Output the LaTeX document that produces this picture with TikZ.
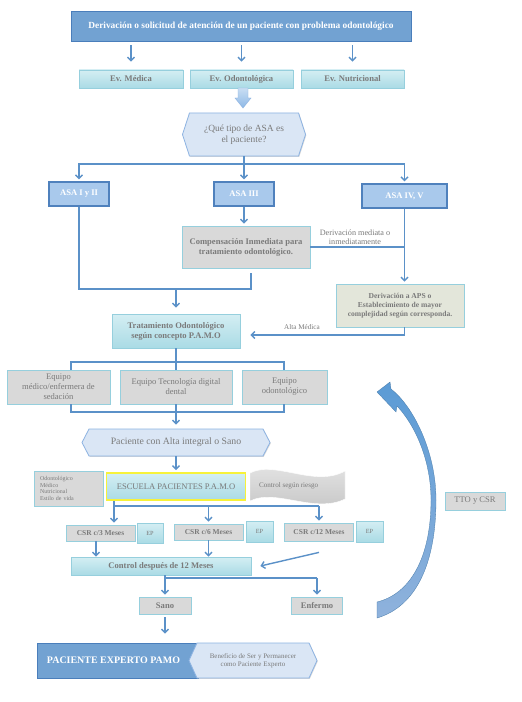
\documentclass[tikz,border=0pt]{standalone}
\usepackage{fontspec}
\setmainfont{Liberation Serif}
\usetikzlibrary{arrows.meta,shapes.symbols,shadows}
\definecolor{lineblue}{HTML}{5B91C8}
\definecolor{topfill}{HTML}{72A2D2}
\definecolor{topdraw}{HTML}{4A7EBB}
\definecolor{asafill}{HTML}{A9C9EC}
\definecolor{asadraw}{HTML}{4F81BD}
\definecolor{cyantop}{HTML}{D4EEF3}
\definecolor{cyanbot}{HTML}{AADBE5}
\definecolor{cyanline}{HTML}{96CFDD}
\definecolor{greyfill}{HTML}{D9D9D9}
\definecolor{hexfill}{HTML}{DAE6F5}
\definecolor{hexdraw}{HTML}{8DB3E2}
\definecolor{apsfill}{HTML}{E3E6DA}
\definecolor{txtgrey}{HTML}{7A7A7A}
\definecolor{yellowline}{HTML}{F7F23A}
\definecolor{arrowtop}{HTML}{5B9BD5}
\definecolor{arrowbot}{HTML}{8FB2DC}
\definecolor{blocktop}{HTML}{C9DEF3}
\definecolor{blockbot}{HTML}{8DB8E6}
\definecolor{wavetop}{HTML}{E6E6E6}
\definecolor{wavebot}{HTML}{C4C4C4}
\tikzset{
  box/.style={inner sep=1bp, align=center, text=txtgrey, line width=0.8bp},
  shad/.style={drop shadow={shadow xshift=0.8bp,shadow yshift=-0.8bp,opacity=0.3}},
  bfs/.style={font=\fontsize{8.6}{10}\selectfont\bfseries},
  rfs/.style={font=\fontsize{8.6}{10}\selectfont},
  topbox/.style={box, fill=topfill, draw=topdraw, text=white, font=\fontsize{9.4}{11}\selectfont\bfseries, shad},
  cyanbox/.style={box, draw=cyanline, top color=cyantop, bottom color=cyanbot, shad},
  greybox/.style={box, draw=cyanline, fill=greyfill, shad},
  asabox/.style={box, draw=asadraw, line width=1.3bp, fill=asafill, text=white, bfs, shad},
  hexbox/.style={box, signal, signal to=west and east, draw=hexdraw, fill=hexfill, shad},
  lbl/.style={align=center, text=txtgrey, font=\fontsize{7.2}{8.2}\selectfont, inner sep=0pt},
  conn/.style={draw=lineblue, line width=1.4bp},
  arr/.style={conn, -{Straight Barb[length=3.5bp,width=7bp]}}
}
\begin{document}
\begin{tikzpicture}[x=1bp,y=-1bp]
\useasboundingbox (0,0) rectangle (522,702);
\fill[white] (0,0) rectangle (522,702);

% top
\node[topbox, minimum width=340bp, minimum height=30bp] (top) at (241,26) {Derivación o solicitud de atención de un paciente con problema odontológico};
\node[cyanbox, bfs, minimum width=104bp, minimum height=18bp] (ev1) at (131,79) {Ev. Médica};
\node[cyanbox, bfs, minimum width=103bp, minimum height=18bp] (ev2) at (241.5,79) {Ev. Odontológica};
\node[cyanbox, bfs, minimum width=103bp, minimum height=18bp] (ev3) at (352.5,79) {Ev. Nutricional};
\foreach \e in {ev1,ev2,ev3}{
  \draw[arr, shorten <=4bp, shorten >=8bp] (top.south -| \e.north) -- (\e.north);
}
% block arrow
\shade[top color=blocktop, bottom color=blockbot, draw=hexdraw, line width=0.4bp]
  (238,88) -- (248,88) -- (248,98) -- (251,98) -- (243,108) -- (235,98) -- (238,98) -- cycle;

% hexagon question
\node[hexbox, font=\fontsize{9.5}{11}\selectfont, signal pointer angle=144, minimum width=123bp, minimum height=43bp] (q) at (244,134.5) {¿Qué tipo de ASA es\\el paciente?};

% ASA
\node[asabox, minimum width=60bp, minimum height=24bp] (asa1) at (79,194) {ASA I y II};
\node[asabox, minimum width=60bp, minimum height=24bp] (asa2) at (244,194) {ASA III};
\node[asabox, minimum width=85bp, minimum height=24bp] (asa3) at (404.5,196) {ASA IV, V};
\coordinate (br) at (244,164);
\draw[conn] (q.south) -- (br);
\draw[arr] (br) -| ([yshift=2bp]asa1.north);
\draw[arr] (br) -| ([yshift=2bp]asa3.north);
\draw[arr] (br) -- ([yshift=2bp]asa2.north);

% compensacion
\node[greybox, bfs, minimum width=128bp, minimum height=42bp] (comp) at (246,247) {Compensación Inmediata para\\tratamiento odontológico.};
\draw[arr] (asa2.south) -- ([yshift=2bp]asa2.south |- comp.north);
\draw[conn] (comp.east) -- (comp.east -| asa3.south);
\node[lbl, font=\fontsize{8.2}{9.5}\selectfont] (l1) at (355,237) {Derivación mediata o\\inmediatamente};

% APS
\node[box, draw=cyanline, fill=apsfill, shad, font=\fontsize{7.6}{9}\selectfont\bfseries, minimum width=128bp, minimum height=43bp] (aps) at (400,305.5) {Derivación a APS o\\Establecimiento de mayor\\complejidad según corresponda.};
\draw[arr] (asa3.south) -- ([yshift=2bp]asa3.south |- aps.north);

% tratamiento
\node[cyanbox, bfs, minimum width=128bp, minimum height=34bp] (trat) at (176,331) {Tratamiento Odontológico\\según concepto P.A.M.O};
\coordinate (j1) at (251,289);
\draw[conn] (asa1.south) |- (j1) -- ([yshift=-5bp]j1 |- comp.south);
\draw[arr] (trat.north |- j1) -- ([yshift=6bp]trat.north);
\draw[arr] (asa3.south |- aps.south) |- ([xshift=10bp,yshift=-4bp]trat.east);
\node[lbl] (l2) at (302,327) {Alta Médica};

% equipos
\node[greybox, rfs, minimum width=103bp, minimum height=34bp] (eq1) at (58.5,387) {Equipo\\médico/enfermera de\\sedación};
\node[greybox, rfs, minimum width=112bp, minimum height=34bp] (eq2) at (176,387) {Equipo Tecnología digital\\dental};
\node[greybox, rfs, minimum width=85bp, minimum height=34bp] (eq3) at (284.5,387) {Equipo\\odontológico};
\coordinate (h1) at (71,362);
\coordinate (h2) at (284,362);
\draw[conn] (trat.south) -- (trat.south |- eq2.north);
\draw[conn] (h1 |- eq1.north) -- (h1) -- (h2) -- (h2 |- eq3.north);
\coordinate (g1) at (71,412);
\coordinate (g2) at (284,412);
\draw[conn] (g1 |- eq1.south) -- (g1) -- (g2) -- (g2 |- eq3.south);
\draw[conn] (eq2.south) -- (eq2.south |- g1);

% paciente con alta
\node[hexbox, font=\fontsize{9.8}{11}\selectfont, signal pointer angle=125, minimum width=188bp, minimum height=27bp] (pac) at (176,442.5) {Paciente con Alta integral o Sano};
\draw[arr] (eq2.south |- g1) -- ([yshift=4bp]pac.north);

% escuela
\node[box, draw=yellowline, line width=1.6bp, top color=cyantop, bottom color=cyanbot, shad, rfs, minimum width=139bp, minimum height=27bp] (esc) at (176,486.5) {ESCUELA PACIENTES P.A.M.O};
\draw[arr] (pac.south) -- ([yshift=2bp]esc.north);
\node[greybox, align=left, font=\fontsize{6}{6.6}\selectfont, text width=57bp, inner xsep=6bp, minimum height=35bp] (lst) at (68.5,488.5) {Odontológico\\Médico\\Nutricional\\Estilo de vida};

% wave banner
\shade[top color=wavetop, bottom color=wavebot, draw=white, line width=0.4bp]
  (250,473) .. controls (275,460) and (315,488) .. (345,471)
  -- (345,499) .. controls (315,514) and (275,488) .. (250,501) -- cycle;
\node[lbl, font=\fontsize{7.1}{8}\selectfont, anchor=west] (cr) at (259,486) {Control según riesgo};

% CSR
\node[greybox, font=\fontsize{7.5}{9}\selectfont\bfseries, minimum width=69bp, minimum height=16bp] (csr1) at (100.5,533) {CSR c/3 Meses};
\node[cyanbox, font=\fontsize{6.3}{7.5}\selectfont, minimum width=26bp, minimum height=20bp] (ep1) at (150,533) {EP};
\node[greybox, font=\fontsize{7.5}{9}\selectfont\bfseries, minimum width=69bp, minimum height=16bp] (csr2) at (208.5,532) {CSR c/6 Meses};
\node[cyanbox, font=\fontsize{6.3}{7.5}\selectfont, minimum width=27bp, minimum height=21bp] (ep2) at (259.5,531.5) {EP};
\node[greybox, font=\fontsize{7.5}{9}\selectfont\bfseries, minimum width=69bp, minimum height=18bp] (csr3) at (319,532) {CSR c/12 Meses};
\node[cyanbox, font=\fontsize{6.3}{7.5}\selectfont, minimum width=27bp, minimum height=21bp] (ep3) at (369.5,531.5) {EP};
\coordinate (e1) at (114,506);
\coordinate (e3) at (319,506);
\draw[conn] (e1 |- esc.south) -- (e1) -- (e3);
\draw[arr] (e1) -- ([yshift=2bp]e1 |- csr1.north);
\draw[arr] (csr2.north |- e1) -- ([yshift=2bp]csr2.north);
\draw[arr] (e3) -- ([yshift=2bp]csr3.north);

% control despues
\node[cyanbox, bfs, minimum width=180bp, minimum height=18bp] (ctl) at (161,566) {Control después de 12 Meses};
\coordinate (c1) at (96,0);
\draw[arr] (csr1.south -| c1) -- (c1 |- ctl.north);
\draw[arr] (csr2.south) -- (csr2.south |- ctl.north);
\draw[arr] ([yshift=-11bp]csr3.south) -- ([xshift=9bp]ctl.east);

% sano / enfermo
\node[greybox, bfs, minimum width=52bp, minimum height=17bp] (sano) at (165,605.5) {Sano};
\node[greybox, bfs, minimum width=51bp, minimum height=17bp] (enf) at (317,605.5) {Enfermo};
\coordinate (s1) at (0,578);
\draw[conn] (sano.north |- ctl.south) -- (sano.north |- s1) -- (enf.north |- s1);
\draw[arr] (sano.north |- s1) -- ([yshift=2bp]sano.north);
\draw[arr] (enf.north |- s1) -- ([yshift=2bp]enf.north);

% paciente experto
\node[box, fill=topfill, draw=topdraw, shad, text=white, font=\fontsize{10}{12}\selectfont\bfseries, minimum width=161bp, minimum height=35bp] (exp) at (117.5,660.5) {PACIENTE EXPERTO PAMO\hspace*{8bp}};
\node[hexbox, font=\fontsize{7}{8.2}\selectfont, signal pointer angle=131, minimum width=128bp, minimum height=35bp] (ben) at (253,660.5) {Beneficio de Ser y Permanecer\\como Paciente Experto};
\draw[arr] ([yshift=-3bp]sano.south) -- ([yshift=9bp]sano.south |- exp.north);

% TTO y CSR
\node[greybox, rfs, minimum width=60bp, minimum height=18bp] (tto) at (475,501) {TTO y CSR};

% curved arrow
\shade[top color=arrowtop, bottom color=arrowbot, draw=arrowtop!80!black, line width=0.3bp]
  (377,618) .. controls (418,606) and (436,560) .. (436,500)
  .. controls (436,450) and (412,405) .. (391,389)
  -- (390,382) -- (377,392) -- (396,412) -- (397,406)
  .. controls (415,425) and (431,460) .. (431,500)
  .. controls (431,558) and (410,594) .. (377,602) -- cycle;
\end{tikzpicture}
\end{document}
